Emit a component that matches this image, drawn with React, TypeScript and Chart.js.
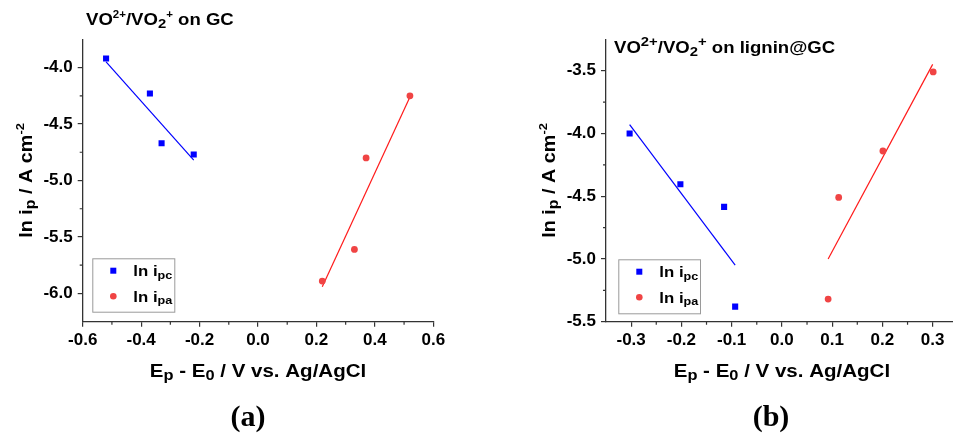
import React, { useEffect, useRef } from 'react';
import { Chart, registerables } from 'chart.js';
Chart.register(...registerables);

type Seg = { t: string; s?: 'sup' | 'sub' };

// ---------- Panel (a): VO2+/VO2+ on GC ----------
const aXTicks = [-0.6, -0.4, -0.2, 0.0, 0.2, 0.4, 0.6];
const aXMinor = [-0.5, -0.3, -0.1, 0.1, 0.3, 0.5];
const aYTicks = [-4.0, -4.5, -5.0, -5.5, -6.0];
const aYMinor = [-4.25, -4.75, -5.25, -5.75];
const aPcX = [-0.52, -0.37, -0.33, -0.22];
const aPcY = [-3.92, -4.23, -4.67, -4.77];
const aPaX = [0.22, 0.33, 0.37, 0.52];
const aPaY = [-5.89, -5.61, -4.8, -4.25];
const aFitPcX = [-0.52, -0.22];
const aFitPcY = [-3.95, -4.82];
const aFitPaX = [0.22, 0.52];
const aFitPaY = [-5.94, -4.26];
const aTitle: Seg[] = [
  { t: 'VO' }, { t: '2+', s: 'sup' }, { t: '/VO' }, { t: '2', s: 'sub' }, { t: '+', s: 'sup' }, { t: ' on GC' },
];

// ---------- Panel (b): VO2+/VO2+ on lignin@GC ----------
const bXTicks = [-0.3, -0.2, -0.1, 0.0, 0.1, 0.2, 0.3];
const bXMinor = [-0.25, -0.15, -0.05, 0.05, 0.15, 0.25];
const bYTicks = [-3.5, -4.0, -4.5, -5.0, -5.5];
const bYMinor = [-3.75, -4.25, -4.75, -5.25];
const bPcX = [-0.303, -0.202, -0.115, -0.093];
const bPcY = [-4.0, -4.405, -4.585, -5.38];
const bPaX = [0.092, 0.113, 0.201, 0.301];
const bPaY = [-5.32, -4.51, -4.14, -3.51];
const bFitPcX = [-0.303, -0.093];
const bFitPcY = [-3.93, -5.05];
const bFitPaX = [0.092, 0.3];
const bFitPaY = [-5.0, -3.45];
const bTitle: Seg[] = [
  { t: 'VO' }, { t: '2+', s: 'sup' }, { t: '/VO' }, { t: '2', s: 'sub' }, { t: '+', s: 'sup' }, { t: ' on lignin@GC' },
];

// ---------- shared text ----------
const xTitle: Seg[] = [{ t: 'E' }, { t: 'p', s: 'sub' }, { t: ' - E' }, { t: '0', s: 'sub' }, { t: ' / V vs. Ag/AgCl' }];
const yTitle: Seg[] = [{ t: 'ln i' }, { t: 'p', s: 'sub' }, { t: ' / A cm' }, { t: '-2', s: 'sup' }];
const legendPc: Seg[] = [{ t: 'ln i' }, { t: 'pc', s: 'sub' }];
const legendPa: Seg[] = [{ t: 'ln i' }, { t: 'pa', s: 'sub' }];
const captions = ['(a)', '(b)'];

const FAMILY = "'Liberation Sans', Arial, Helvetica, sans-serif";
const BLUE = '#0000ff';
const RED_PT = '#f04444';
const RED_LN = '#ff1a1a';
const AXIS = '#333333';

function drawRich(
  ctx: CanvasRenderingContext2D,
  segs: Seg[],
  x: number,
  y: number,
  size: number,
  align: 'left' | 'center',
  hx = 1.14,
  supScale = 0.65,
  subScale = 0.8,
) {
  const sizes = segs.map((s) => (s.s === 'sup' ? size * supScale : s.s === 'sub' ? size * subScale : size));
  const widths = segs.map((s, i) => {
    ctx.font = `bold ${sizes[i]}px ${FAMILY}`;
    return ctx.measureText(s.t).width;
  });
  const total = widths.reduce((a, b) => a + b, 0);
  ctx.save();
  ctx.translate(x, y);
  ctx.scale(hx, 1);
  let cx = align === 'center' ? -total / 2 : 0;
  ctx.textAlign = 'left';
  ctx.textBaseline = 'alphabetic';
  ctx.fillStyle = '#000';
  segs.forEach((s, i) => {
    ctx.font = `bold ${sizes[i]}px ${FAMILY}`;
    const dy = s.s === 'sup' ? -0.42 * size : s.s === 'sub' ? 0.17 * size : 0;
    ctx.fillText(s.t, cx, dy);
    cx += widths[i];
  });
  ctx.restore();
}

interface Panel {
  key: string;
  left: number;
  width: number;
  height: number;
  area: { left: number; top: number; right: number; bottom: number };
  xMin: number; xMax: number; yMin: number; yMax: number;
  xTicks: number[]; xMinor: number[]; yTicks: number[]; yMinor: number[];
  pcX: number[]; pcY: number[]; paX: number[]; paY: number[];
  fitPcX: number[]; fitPcY: number[]; fitPaX: number[]; fitPaY: number[];
  title: Seg[]; titleX: number; titleY: number; titleSup: number;
  legend: { x: number; y: number; w: number; h: number };
}

const panels: Panel[] = [
  {
    key: 'a', left: 0, width: 480, height: 400,
    area: { left: 82.7, top: 39.3, right: 433.3, bottom: 321.7 },
    xMin: -0.6, xMax: 0.6, yMin: -6.25, yMax: -3.75,
    xTicks: aXTicks, xMinor: aXMinor, yTicks: aYTicks, yMinor: aYMinor,
    pcX: aPcX, pcY: aPcY, paX: aPaX, paY: aPaY,
    fitPcX: aFitPcX, fitPcY: aFitPcY, fitPaX: aFitPaX, fitPaY: aFitPaY,
    title: aTitle, titleX: 86, titleY: 25, titleSup: 0.62,
    legend: { x: 92.3, y: 258.3, w: 82, h: 53.4 },
  },
  {
    key: 'b', left: 476, width: 500, height: 400,
    area: { left: 130, top: 39.3, right: 481.8, bottom: 321.7 },
    xMin: -0.35, xMax: 0.35, yMin: -5.5, yMax: -3.25,
    xTicks: bXTicks, xMinor: bXMinor, yTicks: bYTicks, yMinor: bYMinor,
    pcX: bPcX, pcY: bPcY, paX: bPaX, paY: bPaY,
    fitPcX: bFitPcX, fitPcY: bFitPcY, fitPaX: bFitPaX, fitPaY: bFitPaY,
    title: bTitle, titleX: 138, titleY: 53.3, titleSup: 0.8,
    legend: { x: 142.3, y: 259.3, w: 81.7, h: 54 },
  },
];

function pts(xs: number[], ys: number[]) {
  return xs.map((x, i) => ({ x, y: ys[i] }));
}

function PanelChart({ p }: { p: Panel }) {
  const ref = useRef<HTMLCanvasElement | null>(null);
  useEffect(() => {
    if (!ref.current) return;
    const tickFont = { family: FAMILY, size: 17, weight: 'bold' as const };
    const extras = {
      id: 'extras' + p.key,
      afterDraw(chart: any) {
        const ctx: CanvasRenderingContext2D = chart.ctx;
        const xs = chart.scales.x;
        const ys = chart.scales.y;
        const ca = chart.chartArea;
        // minor ticks
        ctx.save();
        ctx.strokeStyle = AXIS;
        ctx.lineWidth = 1.2;
        ctx.beginPath();
        p.xMinor.forEach((v) => {
          const px = xs.getPixelForValue(v);
          ctx.moveTo(px, ca.bottom);
          ctx.lineTo(px, ca.bottom + 3);
        });
        p.yMinor.forEach((v) => {
          const py = ys.getPixelForValue(v);
          ctx.moveTo(ca.left - 3, py);
          ctx.lineTo(ca.left, py);
        });
        ctx.stroke();
        ctx.restore();
        // title
        drawRich(ctx, p.title, p.titleX, p.titleY, 16.3, 'left', 1.14, p.titleSup, 0.8);
        // axis titles
        drawRich(ctx, xTitle, (ca.left + ca.right) / 2, 377, 18, 'center', 1.14, 0.65, 0.8);
        ctx.save();
        ctx.translate(ca.left - 51, (ca.top + ca.bottom) / 2);
        ctx.rotate(-Math.PI / 2);
        drawRich(ctx, yTitle, 0, 0, 18, 'center', 1.1, 0.65, 0.8);
        ctx.restore();
        // legend
        const L = p.legend;
        ctx.save();
        ctx.fillStyle = '#fff';
        ctx.fillRect(L.x, L.y, L.w, L.h);
        ctx.strokeStyle = '#9a9a9a';
        ctx.lineWidth = 1;
        ctx.strokeRect(L.x + 0.5, L.y + 0.5, L.w, L.h);
        const r1 = L.y + 12.4;
        const r2 = L.y + 37.9;
        ctx.fillStyle = BLUE;
        ctx.fillRect(L.x + 21 - 3, r1 - 3, 6, 6);
        ctx.fillStyle = RED_PT;
        ctx.beginPath();
        ctx.arc(L.x + 21, r2, 3.3, 0, Math.PI * 2);
        ctx.fill();
        ctx.restore();
        drawRich(ctx, legendPc, L.x + 41, r1 + 5.5, 15.3, 'left', 1.1, 0.65, 0.75);
        drawRich(ctx, legendPa, L.x + 41, r2 + 5.5, 15.3, 'left', 1.1, 0.65, 0.75);
      },
    };
    const chart = new Chart(ref.current, {
      type: 'scatter',
      data: {
        datasets: [
          {
            data: pts(p.pcX, p.pcY),
            pointStyle: 'rect',
            pointRadius: 4.3,
            backgroundColor: BLUE,
            borderColor: BLUE,
            borderWidth: 0,
            showLine: false,
          },
          {
            data: pts(p.paX, p.paY),
            pointStyle: 'circle',
            pointRadius: 3.4,
            backgroundColor: RED_PT,
            borderColor: RED_PT,
            borderWidth: 0,
            showLine: false,
          },
          {
            data: pts(p.fitPcX, p.fitPcY),
            showLine: true,
            pointRadius: 0,
            borderColor: BLUE,
            borderWidth: 1.2,
            backgroundColor: BLUE,
          },
          {
            data: pts(p.fitPaX, p.fitPaY),
            showLine: true,
            pointRadius: 0,
            borderColor: RED_LN,
            borderWidth: 1.2,
            backgroundColor: RED_LN,
          },
        ],
      } as any,
      options: {
        animation: false,
        responsive: false,
        devicePixelRatio: 1,
        layout: { padding: { left: 0, top: p.area.top, right: p.width - p.area.right, bottom: 0 } },
        plugins: { legend: { display: false }, tooltip: { enabled: false } },
        scales: {
          x: {
            type: 'linear',
            min: p.xMin,
            max: p.xMax,
            afterBuildTicks: (s: any) => {
              s.ticks = p.xTicks.map((v) => ({ value: v }));
            },
            afterFit: (s: any) => {
              s.height = p.height - p.area.bottom;
            },
            ticks: {
              font: tickFont,
              color: '#000',
              padding: 3,
              autoSkip: false,
              maxRotation: 0,
              callback: (v: any) => Number(v).toFixed(1),
            },
            grid: { display: true, drawOnChartArea: false, drawTicks: true, tickLength: 5, color: AXIS, lineWidth: 1.2 },
            border: { display: true, color: AXIS, width: 1.3 },
          },
          y: {
            type: 'linear',
            min: p.yMin,
            max: p.yMax,
            afterBuildTicks: (s: any) => {
              s.ticks = p.yTicks.map((v) => ({ value: v }));
            },
            afterFit: (s: any) => {
              s.width = p.area.left;
            },
            ticks: {
              font: tickFont,
              color: '#000',
              padding: 5,
              autoSkip: false,
              callback: (v: any) => Number(v).toFixed(1),
            },
            grid: { display: true, drawOnChartArea: false, drawTicks: true, tickLength: 5, color: AXIS, lineWidth: 1.2 },
            border: { display: true, color: AXIS, width: 1.3 },
          },
        },
      } as any,
      plugins: [extras],
    });
    return () => chart.destroy();
  }, [p]);
  return (
    <canvas
      ref={ref}
      width={p.width}
      height={p.height}
      style={{ position: 'absolute', left: p.left, top: 0, width: p.width, height: p.height }}
    />
  );
}

export default function App() {
  return (
    <div
      style={{
        position: 'absolute',
        left: 0,
        top: 0,
        width: 953,
        height: 434,
        overflow: 'hidden',
        background: '#fff',
      }}
    >
      {panels.map((p) => (
        <PanelChart key={p.key} p={p} />
      ))}
      {captions.map((c, i) => (
        <div
          key={c}
          style={{
            position: 'absolute',
            left: (i === 0 ? 248 : 771) - 100,
            top: 401,
            width: 200,
            textAlign: 'center',
            fontFamily: "'Liberation Serif', 'Times New Roman', serif",
            fontWeight: 'bold',
            fontSize: 30,
            lineHeight: '30px',
            color: '#000',
          }}
        >
          {c}
        </div>
      ))}
    </div>
  );
}
